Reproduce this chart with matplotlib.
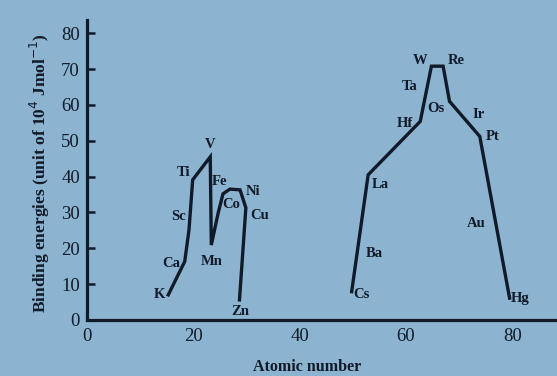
import matplotlib
matplotlib.use("Agg")
import matplotlib.pyplot as plt

# 3d series (x positions as drawn against the axis, binding energy)
d3_x = [15.3, 18.4, 19.2, 19.9, 23.2, 23.4, 24.7, 25.6, 26.9, 28.8, 29.9, 28.7]
d3_y = [7.0, 16.3, 25.1, 39.1, 45.5, 20.9, 29.9, 35.2, 36.5, 36.3, 31.3, 5.6]

# 5d series
d5_x = [49.8, 52.9, 62.7, 64.8, 67.0, 68.2, 73.9, 79.5]
d5_y = [7.9, 40.5, 55.4, 70.8, 70.8, 61.0, 51.2, 6.1]

# element labels
labels = ["K", "Ca", "Sc", "Ti", "V", "Fe", "Co", "Ni", "Cu", "Mn", "Zn",
          "W", "Re", "Ta", "Os", "Hf", "Ir", "Pt", "La", "Au", "Ba", "Cs", "Hg"]
label_x = [13.7, 15.9, 17.2, 18.1, 23.1, 25.0, 27.2, 31.3, 32.4, 23.4, 28.8,
           62.6, 69.5, 60.7, 65.7, 59.8, 73.6, 76.4, 55.1, 73.3, 54.1, 51.6, 81.4]
label_y = [7.0, 15.8, 28.9, 41.0, 48.9, 38.6, 32.1, 35.8, 29.1, 16.3, 2.3,
           72.4, 72.4, 65.2, 59.1, 54.9, 57.3, 51.2, 37.7, 27.0, 18.6, 7.0, 6.1]

yticks = [0, 10, 20, 30, 40, 50, 60, 70, 80]
xticks = [0, 20, 40, 60, 80]

bg = "#8cb4d0"
ink = "#111a28"
font = ["Liberation Serif", "DejaVu Serif"]

fig = plt.figure(figsize=(5.57, 3.76), dpi=100, facecolor=bg)
ax = fig.add_axes([0.156, 0.149, 0.84, 0.798])
ax.set_facecolor(bg)

ax.plot(d3_x, d3_y, color=ink, lw=2.4, solid_joinstyle="miter")
ax.plot(d5_x, d5_y, color=ink, lw=2.4, solid_joinstyle="miter")

for t, x, y in zip(labels, label_x, label_y):
    ax.text(x, y, t, ha="center", va="center", fontsize=10.5, fontweight="bold",
            color=ink, family=font)

ax.set_xlim(0, 88)
ax.set_ylim(0, 83.7)
ax.set_yticks(yticks)
ax.set_xticks(xticks)
ax.set_xticklabels([str(v) for v in xticks])
ax.set_yticklabels([str(v) for v in yticks])

for s in ["top", "right"]:
    ax.spines[s].set_visible(False)
for s in ["left", "bottom"]:
    ax.spines[s].set_linewidth(2.3)
    ax.spines[s].set_color(ink)

ax.tick_params(axis="y", direction="in", length=6, width=1.8, colors=ink,
               labelsize=13.5, pad=5)
ax.tick_params(axis="x", length=0, colors=ink, labelsize=13.5, pad=6)
for lab in ax.get_xticklabels() + ax.get_yticklabels():
    lab.set_family(font)

ax.set_xlabel("Atomic number", fontsize=11.5, fontweight="bold", color=ink,
              family=font)
ax.xaxis.set_label_coords(0.47, -0.157)
ax.xaxis.label.set_va("center")
ax.set_ylabel("Binding energies (unit of 10$^4$ Jmol$^{-1}$)", fontsize=12.5,
              fontweight="bold", color=ink, family=font)
ax.yaxis.set_label_coords(-0.1, 0.49)
ax.yaxis.label.set_va("center")

fig.savefig("out.png", dpi=100, facecolor=bg)
